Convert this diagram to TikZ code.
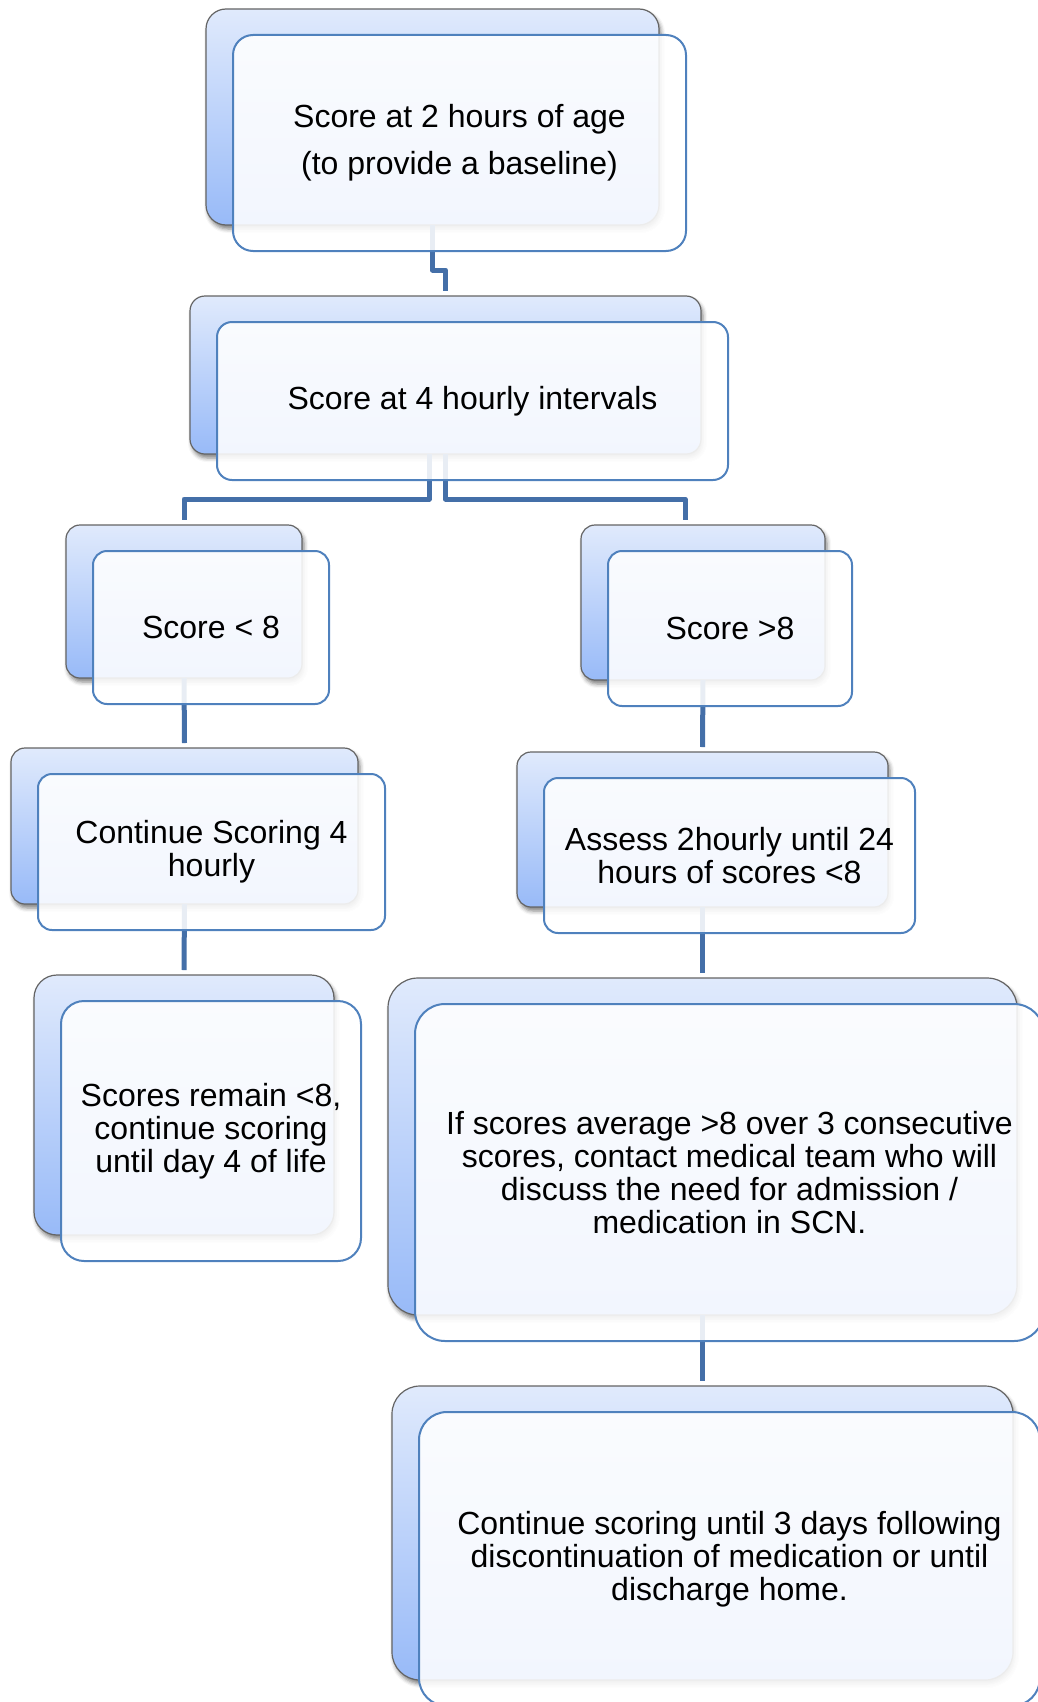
\documentclass[tikz,border=0pt]{standalone}
\usepackage{fontspec}
\setmainfont{Liberation Sans}
\usetikzlibrary{shadows.blur}
\definecolor{connc}{RGB}{68,111,168}
\definecolor{frontc}{RGB}{79,129,189}
\definecolor{backtop}{RGB}{224,234,252}
\definecolor{backbot}{RGB}{152,186,248}
\definecolor{backline}{RGB}{100,100,100}
\tikzset{
  backcard/.style={draw=backline, line width=1.2pt, top color=backtop, bottom color=backbot,
    inner sep=0pt, outer sep=0pt, anchor=north west,
    blur shadow={shadow xshift=2pt, shadow yshift=-4pt, shadow blur radius=4pt, shadow opacity=50}},
  frontcard/.style={draw=frontc, line width=2pt, fill=white, fill opacity=0.88, text opacity=1,
    inner sep=0pt, outer sep=0pt, anchor=north west, align=center,
    font=\fontsize{32}{33}\selectfont},
  conn/.style={draw=connc, line width=5pt, line join=round}
}
\begin{document}
\begin{tikzpicture}[x=1pt,y=-1pt]
\useasboundingbox (0,0) rectangle (1037,1702);
% back cards
\node[backcard, minimum width=453pt, minimum height=216pt, rounded corners=20pt] (b1) at (206,9) {};
\node[backcard, minimum width=511pt, minimum height=158pt, rounded corners=15pt] (b2) at (190,296) {};
\node[backcard, minimum width=236pt, minimum height=153pt, rounded corners=14pt] (b3L) at (66,525) {};
\node[backcard, minimum width=347pt, minimum height=156pt, rounded corners=14pt] (b4L) at (11,748) {};
\node[backcard, minimum width=300pt, minimum height=260pt, rounded corners=23pt] (b5L) at (34,975) {};
\node[backcard, minimum width=244pt, minimum height=155pt, rounded corners=14pt] (b3R) at (581,525) {};
\node[backcard, minimum width=371pt, minimum height=155pt, rounded corners=14pt] (b4R) at (517,752) {};
\node[backcard, minimum width=629pt, minimum height=337pt, rounded corners=30pt] (b5R) at (388,978) {};
\node[backcard, minimum width=621pt, minimum height=294pt, rounded corners=28pt] (b6R) at (392,1386) {};
% connectors
\draw[conn] (b1.south) -- ++(0,45) -| ([yshift=5pt]b2.north);
\draw[conn] ([xshift=-16.5pt]b2.south) -- ++(0,45) -| ([yshift=5pt]b3L.north);
\draw[conn] (b2.south) -- ++(0,45) -| ([xshift=-18pt,yshift=5pt]b3R.north);
\draw[conn] (b3L.south) -- ([yshift=5pt]b4L.north);
\draw[conn] (b4L.south) -- ([yshift=5pt]b5L.north);
\draw[conn] (b3R.south) -- ([yshift=5pt]b4R.north);
\draw[conn] (b4R.south) -- ([yshift=5pt]b5R.north);
\draw[conn] (b5R.south) -- ([yshift=5pt]b6R.north);
% front cards
\node[frontcard, minimum width=453pt, minimum height=216pt, rounded corners=20pt, font=\fontsize{32}{47}\selectfont] (f1) at ([xshift=27pt,yshift=-26pt]b1.north west) {Score at 2 hours of age\\(to provide a baseline)};
\node[frontcard, minimum width=511pt, minimum height=158pt, rounded corners=15pt] (f2) at ([xshift=27pt,yshift=-26pt]b2.north west) {Score at 4 hourly intervals};
\node[frontcard, minimum width=236pt, minimum height=153pt, rounded corners=14pt] (f3L) at ([xshift=27pt,yshift=-26pt]b3L.north west) {Score < 8};
\node[frontcard, minimum width=347pt, minimum height=156pt, rounded corners=14pt] (f4L) at ([xshift=27pt,yshift=-26pt]b4L.north west) {Continue Scoring 4\\hourly};
\node[frontcard, minimum width=300pt, minimum height=260pt, rounded corners=23pt] (f5L) at ([xshift=27pt,yshift=-26pt]b5L.north west) {Scores remain <8,\\continue scoring\\until day 4 of life};
\node[frontcard, minimum width=244pt, minimum height=155pt, rounded corners=14pt] (f3R) at ([xshift=27pt,yshift=-26pt]b3R.north west) {Score >8};
\node[frontcard, minimum width=371pt, minimum height=155pt, rounded corners=14pt] (f4R) at ([xshift=27pt,yshift=-26pt]b4R.north west) {Assess 2hourly until 24\\hours of scores <8};
\node[frontcard, minimum width=629pt, minimum height=337pt, rounded corners=30pt] (f5R) at ([xshift=27pt,yshift=-26pt]b5R.north west) {If scores average >8 over 3 consecutive\\scores, contact medical team who will\\discuss the need for admission /\\medication in SCN.};
\node[frontcard, minimum width=621pt, minimum height=294pt, rounded corners=28pt] (f6R) at ([xshift=27pt,yshift=-26pt]b6R.north west) {Continue scoring until 3 days following\\discontinuation of medication or until\\discharge home.};
\end{tikzpicture}
\end{document}
